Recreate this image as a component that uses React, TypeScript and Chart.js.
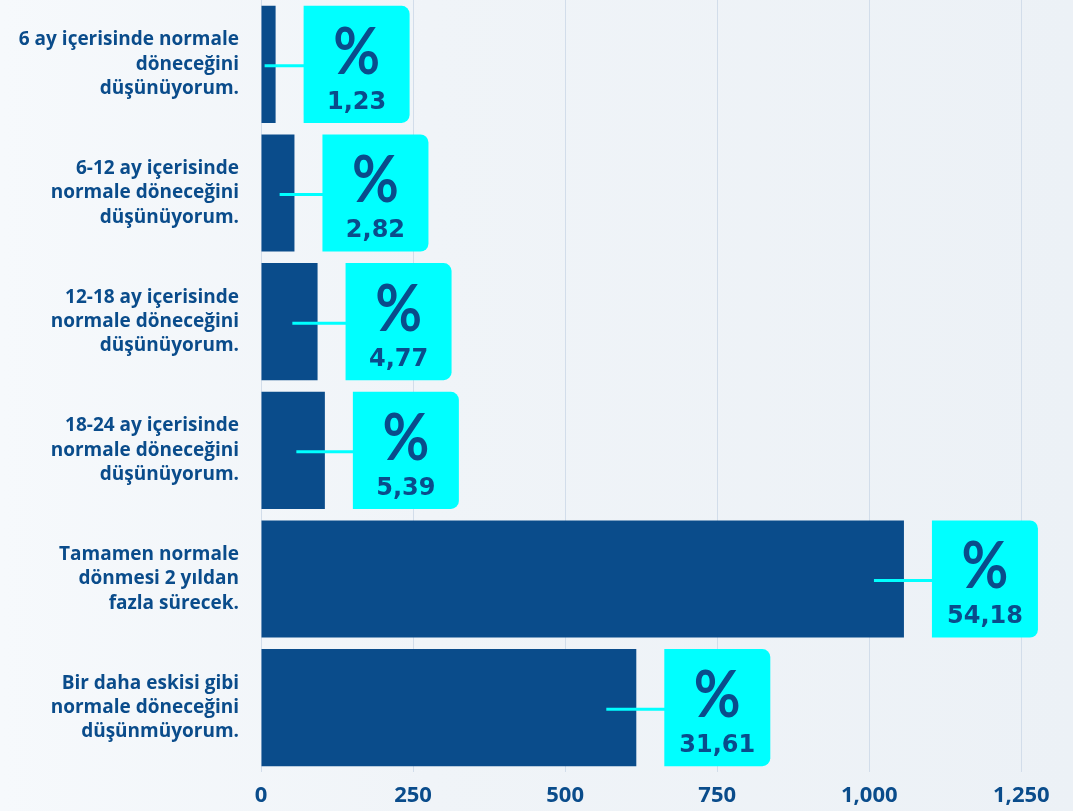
import React, { useEffect, useRef } from "react";
import { Chart, registerables } from "chart.js";

Chart.register(...registerables);

const categories: string[][] = [
  ["6 ay içerisinde normale", "döneceğini", "düşünüyorum."],
  ["6-12 ay içerisinde", "normale döneceğini", "düşünüyorum."],
  ["12-18 ay içerisinde", "normale döneceğini", "düşünüyorum."],
  ["18-24 ay içerisinde", "normale döneceğini", "düşünüyorum."],
  ["Tamamen normale", "dönmesi 2 yıldan", "fazla sürecek."],
  ["Bir daha eskisi gibi", "normale döneceğini", "düşünmüyorum."],
];
const counts: number[] = [24, 55, 93, 105, 1057, 617];
const percentLabels: string[] = ["1,23", "2,82", "4,77", "5,39", "54,18", "31,61"];

const NAVY = "#0a4c8b";
const CYAN = "#00ffff";
const FONT = "'Open Sans', Lato, sans-serif";

const labelBoxes = {
  id: "labelBoxes",
  afterDatasetsDraw(chart: any) {
    const ctx = chart.ctx as CanvasRenderingContext2D;
    const meta = chart.getDatasetMeta(0);
    meta.data.forEach((bar: any, i: number) => {
      const { x, y, base, height } = bar.getProps(["x", "y", "base", "height"], true);
      const top = y - height / 2;
      const len = x - base;
      const inset = Math.min(30, Math.max(11, len * 0.45));
      const boxX = x + 28;
      const boxW = 106;
      ctx.save();
      ctx.strokeStyle = CYAN;
      ctx.lineWidth = 3;
      ctx.beginPath();
      ctx.moveTo(x - inset, y + 1.5);
      ctx.lineTo(boxX + 1, y + 1.5);
      ctx.stroke();
      ctx.fillStyle = CYAN;
      ctx.beginPath();
      (ctx as any).roundRect(boxX, top, boxW, height, [0, 8, 8, 0]);
      ctx.fill();
      ctx.fillStyle = NAVY;
      ctx.textAlign = "center";
      ctx.textBaseline = "alphabetic";
      const cx = boxX + boxW / 2;
      ctx.save();
      ctx.translate(cx, top + 68);
      ctx.scale(0.88, 1);
      ctx.font = `bold 65px Lato, 'Open Sans', sans-serif`;
      ctx.fillText("%", 0, 0);
      ctx.restore();
      ctx.font = `bold 24px 'DejaVu Sans', 'Open Sans', sans-serif`;
      ctx.fillText(percentLabels[i], cx, top + 103);
      ctx.restore();
    });
  },
};

export default function App() {
  const ref = useRef<HTMLCanvasElement | null>(null);
  useEffect(() => {
    if (!ref.current) return;
    const chart = new Chart(ref.current, {
      type: "bar",
      data: {
        labels: categories,
        datasets: [
          {
            data: counts,
            backgroundColor: NAVY,
            borderWidth: 0,
            barPercentage: 0.91,
            categoryPercentage: 1,
          },
        ],
      },
      options: {
        indexAxis: "y",
        responsive: false,
        animation: false,
        layout: { padding: { top: 0, right: 3, left: 0, bottom: 0 } },
        plugins: { legend: { display: false }, tooltip: { enabled: false } },
        scales: {
          x: {
            min: 0,
            max: 1330,
            ticks: {
              stepSize: 250,
              includeBounds: false,
              color: NAVY,
              padding: 11,
              font: { family: FONT, size: 22, weight: "bold" },
            },
            grid: { color: "#d2ddea", lineWidth: 1, drawTicks: false },
            border: { display: false },
            afterFit: (s: any) => {
              s.height = 39;
              s.paddingLeft = 0;
              s.paddingRight = 0;
            },
          },
          y: {
            ticks: {
              color: NAVY,
              padding: 22,
              font: { family: FONT, size: 19, weight: "bold", lineHeight: 1.28 },
            },
            grid: { display: false, drawTicks: false },
            border: { display: false },
            afterFit: (s: any) => {
              s.width = 261;
              s.paddingTop = 0;
              s.paddingBottom = 0;
            },
          },
        },
      },
      plugins: [labelBoxes],
    });
    return () => chart.destroy();
  }, []);
  return (
    <div
      style={{
        position: "absolute",
        left: 0,
        top: 0,
        width: 1073,
        height: 811,
        background: "linear-gradient(90deg, #f6f9fc 0%, #f0f4f8 40%, #ecf1f6 100%)",
      }}
    >
      <canvas ref={ref} width={1073} height={811} />
    </div>
  );
}
